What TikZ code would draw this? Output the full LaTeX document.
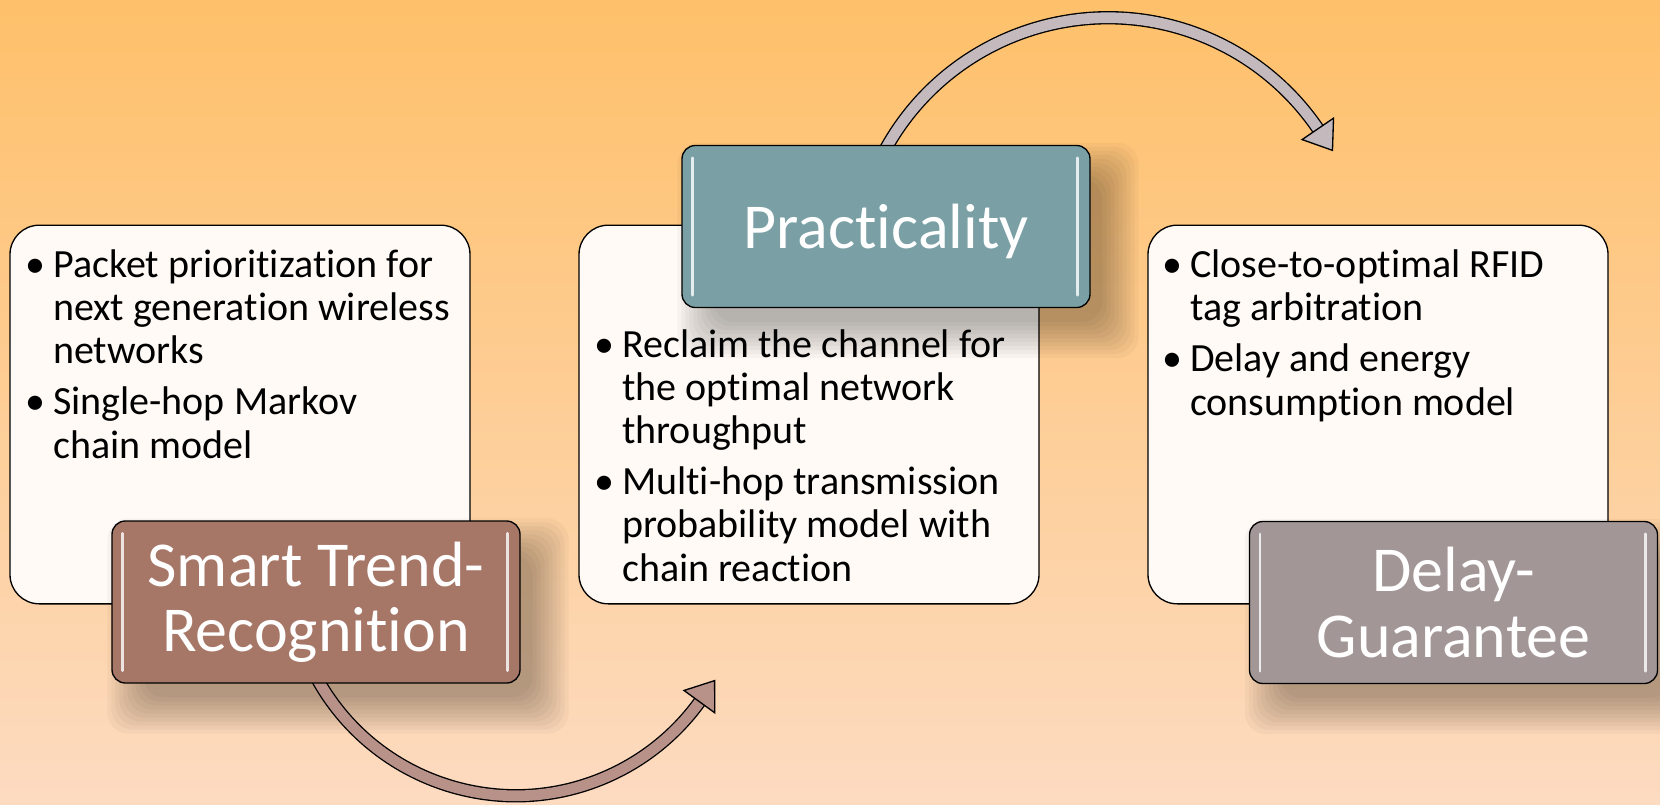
\documentclass[tikz,border=0pt]{standalone}
\usepackage{fontspec}
\setmainfont{Carlito}[Ligatures=NoCommon]
\usepackage{tikz}
\usetikzlibrary{calc}

\definecolor{bgtop}{RGB}{254,192,106}
\definecolor{bgbot}{RGB}{253,219,193}
\definecolor{boxfill}{RGB}{255,250,245}
\definecolor{smartbrown}{RGB}{166,118,102}
\definecolor{practteal}{RGB}{122,160,165}
\definecolor{delaygrey}{RGB}{163,150,150}
\definecolor{arcgrey}{RGB}{196,186,189}
\definecolor{arcbrown}{RGB}{184,146,136}

\pgfdeclarelayer{background}
\pgfdeclarelayer{behind}
\pgfsetlayers{background,behind,main}

\tikzset{
  infobox/.style={draw=black, line width=1pt, fill=boxfill, rounded corners=22pt,
    minimum width=345pt, minimum height=284pt, inner sep=0pt},
  titlebox/.style={draw=black, line width=1pt, rounded corners=10pt,
    minimum width=306pt, minimum height=121.5pt, inner sep=0pt,
    text=white, align=center, font=\fontsize{48pt}{49pt}\selectfont},
  bullets/.style={anchor=base west, inner sep=0pt, align=left, font=\fontsize{30pt}{32.3pt}\selectfont},
  gloss/.style={white, line width=2pt, opacity=0.8, line cap=round},
  softshadow/.style={black, opacity=0.032, rounded corners=16pt},
  arcshaft/.style={line width=1pt, double distance=8pt},
  archead/.style={draw=black, line width=1pt, line join=miter},
}

\begin{document}
\begin{tikzpicture}[x=0.75pt,y=0.75pt,yscale=-1,xscale=1]
%set diagram to 1660 x 804
\useasboundingbox (0,0) rectangle (1660,804);
\begin{pgfonlayer}{background}
%background gradient
\shade [top color=bgtop, bottom color=bgbot] (0,0) rectangle (1660,804);

%Shape: Rounded Rectangle [left]
\node (leftbox) [infobox] at (240,414.5) {};
%Shape: Rounded Rectangle [middle]
\node (midbox) [infobox] at (809,414.5) {};
%Shape: Rounded Rectangle [right]
\node (rightbox) [infobox] at (1378,414.5) {};

% Text Node
\node (lefttext) [bullets] at (53,458) {\llap{\textbullet\hspace{6pt}}Packet prioritization for\\next generation wireless\\networks\\[6pt]\llap{\textbullet\hspace{6pt}}Single-hop Markov\\chain model};
% Text Node
\node (midtext) [bullets] at (622,581) {\llap{\textbullet\hspace{6pt}}Reclaim the channel for\\the optimal network\\throughput\\[6pt]\llap{\textbullet\hspace{6pt}}Multi-hop transmission\\probability model with\\chain reaction};
% Text Node
\node (righttext) [bullets] at (1190,415) {\llap{\textbullet\hspace{6pt}}Close-to-optimal RFID\\tag arbitration\\[6pt]\llap{\textbullet\hspace{6pt}}Delay and energy\\consumption model};
\end{pgfonlayer}

%Shape: Title boxes
\node (smart) [titlebox, fill=smartbrown] at (316,602) {Smart Trend-\\Recognition};
\node (pract) [titlebox, fill=practteal, text depth=0pt] at (886,226.5) {Practicality};
\node (delay) [titlebox, fill=delaygrey] at (1453.5,602.5) {Delay-\\Guarantee};

%Straight Lines [gloss]
\draw [gloss] ($(smart.north west)+(11,13)$) -- ($(smart.south west)+(11,-13)$);
\draw [gloss] ($(smart.north east)+(-13,13)$) -- ($(smart.south east)+(-13,-13)$);
\draw [gloss] ($(pract.north west)+(11,13)$) -- ($(pract.south west)+(11,-13)$);
\draw [gloss] ($(pract.north east)+(-13,13)$) -- ($(pract.south east)+(-13,-13)$);
\draw [gloss] ($(delay.north west)+(11,13)$) -- ($(delay.south west)+(11,-13)$);
\draw [gloss] ($(delay.north east)+(-13,13)$) -- ($(delay.south east)+(-13,-13)$);

\begin{pgfonlayer}{behind}
%soft shadows under the title boxes
\foreach \s in {-10,-6,...,26} {
  \fill [softshadow] ($(smart.north west)+(22-\s,24-\s)$) rectangle ($(smart.south east)+(22+\s,24+\s)$);
  \fill [softshadow] ($(pract.north west)+(22-\s,24-\s)$) rectangle ($(pract.south east)+(22+\s,24+\s)$);
  \fill [softshadow] ($(delay.north west)+(22-\s,24-\s)$) rectangle ($(delay.south east)+(22+\s,24+\s)$);
}

%Curved Arrow [smart -> middle]
\coordinate (cA) at (515.7,568.2);
\coordinate (tipA) at ($(cA)+(36:227)+(-54:26)$);
\draw [arcshaft, double=arcbrown] ($(smart.south)+(-6,-19)$) arc [start angle=155, end angle=34, radius=227];
\filldraw [archead, fill=arcbrown] ($(cA)+(36:208)$) -- ($(cA)+(36:246)$) -- (tipA) -- cycle;
%Curved Arrow [pract -> right]
\coordinate (cB) at (1108,272);
\coordinate (tipB) at ($(cB)+(-34.3:254)+(55.7:26)$);
\draw [arcshaft, double=arcgrey] ($(pract.north)+(-8.2,19.6)$) arc [start angle=-155, end angle=-32.3, radius=254];
\filldraw [archead, fill=arcgrey] ($(cB)+(-34.3:235)$) -- ($(cB)+(-34.3:273)$) -- (tipB) -- cycle;
\end{pgfonlayer}
\end{tikzpicture}
\end{document}
